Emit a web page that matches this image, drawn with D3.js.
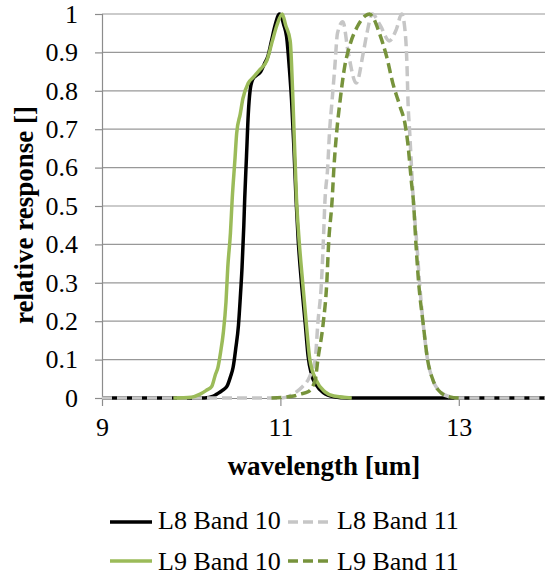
<!DOCTYPE html>
<html>
<head>
<meta charset="utf-8">
<script src="https://cdn.jsdelivr.net/npm/d3@7/dist/d3.min.js"></script>
<style>
  html, body { margin: 0; padding: 0; background: #fff; }
  svg { display: block; }
</style>
</head>
<body>
<svg id="chart" width="545" height="575"></svg>
<script>
// ---------- DATA ----------
const seriesNames = ["L8 Band 10", "L8 Band 11", "L9 Band 10", "L9 Band 11"];

const l8b10_w = [9.0, 10.0, 10.15, 10.25, 10.30, 10.35, 10.40, 10.44, 10.47, 10.50, 10.53, 10.55, 10.57, 10.59, 10.60, 10.62, 10.64, 10.66, 10.69, 10.73, 10.78, 10.82, 10.86, 10.90, 10.94, 10.99, 11.04, 11.07, 11.10, 11.125, 11.15, 11.175, 11.20, 11.24, 11.28, 11.31, 11.35, 11.40, 11.48, 11.60, 11.75, 14.0];
const l8b10_r = [0, 0, 0, 0.005, 0.012, 0.02, 0.03, 0.055, 0.08, 0.13, 0.19, 0.26, 0.34, 0.45, 0.52, 0.63, 0.74, 0.80, 0.83, 0.84, 0.85, 0.87, 0.89, 0.93, 0.97, 1.0, 0.97, 0.94, 0.86, 0.776, 0.66, 0.52, 0.41, 0.29, 0.19, 0.11, 0.06, 0.035, 0.014, 0.003, 0, 0];

const l8b11_w = [9.0, 11.0, 11.10, 11.18, 11.25, 11.31, 11.36, 11.39, 11.42, 11.46, 11.48, 11.50, 11.53, 11.55, 11.58, 11.61, 11.64, 11.70, 11.76, 11.85, 11.93, 11.97, 12.03, 12.12, 12.22, 12.30, 12.36, 12.40, 12.42, 12.43, 12.45, 12.47, 12.49, 12.53, 12.56, 12.60, 12.65, 12.71, 12.79, 12.90, 13.0, 14.0];
const l8b11_r = [0, 0, 0.005, 0.016, 0.03, 0.047, 0.075, 0.10, 0.195, 0.30, 0.40, 0.516, 0.60, 0.69, 0.776, 0.862, 0.95, 0.98, 0.90, 0.82, 0.90, 0.95, 1.0, 0.97, 0.93, 0.96, 1.0, 0.95, 0.86, 0.776, 0.69, 0.60, 0.516, 0.40, 0.30, 0.195, 0.10, 0.047, 0.016, 0.003, 0, 0];

const l9b10_w = [9.8, 10.0, 10.10, 10.17, 10.23, 10.27, 10.30, 10.33, 10.36, 10.39, 10.41, 10.44, 10.46, 10.49, 10.51, 10.55, 10.58, 10.64, 10.70, 10.77, 10.85, 10.91, 10.96, 11.02, 11.06, 11.11, 11.14, 11.18, 11.21, 11.25, 11.29, 11.33, 11.40, 11.50, 11.60, 11.80];
const l9b10_r = [0, 0.002, 0.01, 0.02, 0.03, 0.06, 0.08, 0.12, 0.17, 0.25, 0.34, 0.43, 0.52, 0.62, 0.69, 0.74, 0.78, 0.82, 0.836, 0.855, 0.88, 0.93, 0.97, 1.0, 0.97, 0.93, 0.78, 0.52, 0.41, 0.30, 0.195, 0.10, 0.047, 0.016, 0.005, 0];

const l9b11_w = [10.9, 11.15, 11.22, 11.31, 11.39, 11.42, 11.48, 11.52, 11.54, 11.58, 11.60, 11.63, 11.67, 11.72, 11.78, 11.86, 11.95, 12.0, 12.04, 12.11, 12.19, 12.26, 12.34, 12.40, 12.43, 12.47, 12.49, 12.52, 12.55, 12.60, 12.65, 12.71, 12.79, 12.90, 13.0];
const l9b11_r = [0, 0.005, 0.01, 0.016, 0.047, 0.10, 0.195, 0.30, 0.40, 0.516, 0.60, 0.69, 0.776, 0.862, 0.92, 0.966, 0.995, 1.0, 0.99, 0.95, 0.89, 0.82, 0.76, 0.71, 0.66, 0.56, 0.516, 0.40, 0.30, 0.195, 0.10, 0.047, 0.016, 0.003, 0];

const xTicks = [9, 11, 13];
const yTicks = [0, 0.1, 0.2, 0.3, 0.4, 0.5, 0.6, 0.7, 0.8, 0.9, 1];
const xTitle = "wavelength [um]";
const yTitle = "relative response []";

// ---------- LAYOUT ----------
const svg = d3.select("#chart");
const plotLeft = 102, plotRight = 548, plotTop = 14, plotBottom = 398;
const x = d3.scaleLinear().domain([9, 14]).range([plotLeft, plotRight]);
const y = d3.scaleLinear().domain([0, 1]).range([plotBottom, plotTop]);

const styles = [
  { color: "#000000", dash: null, width: 3.5 },
  { color: "#c6c6c6", dash: "10,5", width: 3.5 },
  { color: "#9bbb59", dash: null, width: 3.5 },
  { color: "#77933c", dash: "10,5", width: 3.5 }
];
const data = [
  l8b10_w.map((w, i) => [w, l8b10_r[i]]),
  l8b11_w.map((w, i) => [w, l8b11_r[i]]),
  l9b10_w.map((w, i) => [w, l9b10_r[i]]),
  l9b11_w.map((w, i) => [w, l9b11_r[i]])
];

const font = "'Liberation Serif', 'Times New Roman', serif";

// gridlines
svg.append("g").selectAll("line").data(yTicks.filter(d => d > 0)).join("line")
  .attr("x1", plotLeft).attr("x2", plotRight)
  .attr("y1", d => y(d)).attr("y2", d => y(d))
  .attr("stroke", "#989898").attr("stroke-width", 1.2);

// y axis
const yAxis = svg.append("g").attr("transform", `translate(${plotLeft},0)`)
  .call(d3.axisLeft(y).tickValues(yTicks).tickFormat(d3.format("")).tickSize(7).tickPadding(17));
yAxis.select(".domain").attr("stroke", "#8c8c8c").attr("stroke-width", 1.2);
yAxis.selectAll(".tick line").attr("stroke", "#8c8c8c").attr("stroke-width", 1.2);
yAxis.selectAll(".tick text").attr("font-family", font).attr("font-size", 26).attr("fill", "#000");

// x axis
const xAxis = svg.append("g").attr("transform", `translate(0,${plotBottom})`)
  .call(d3.axisBottom(x).tickValues(xTicks).tickFormat(d3.format("d")).tickSize(8).tickSizeOuter(0).tickPadding(12));
xAxis.select(".domain").attr("stroke", "#8c8c8c").attr("stroke-width", 1.2);
xAxis.selectAll(".tick line").attr("stroke", "#8c8c8c").attr("stroke-width", 1.2);
xAxis.selectAll(".tick text").attr("font-family", font).attr("font-size", 26).attr("fill", "#000");

// series lines
const line = d3.line().x(d => x(d[0])).y(d => y(d[1])).curve(d3.curveMonotoneX);
data.forEach((pts, i) => {
  svg.append("path").datum(pts)
    .attr("d", line)
    .attr("fill", "none")
    .attr("stroke", styles[i].color)
    .attr("stroke-width", styles[i].width)
    .attr("stroke-dasharray", styles[i].dash)
    .attr("stroke-linejoin", "round");
});

// axis titles
svg.append("text")
  .attr("x", 324).attr("y", 475)
  .attr("text-anchor", "middle")
  .attr("font-family", font).attr("font-weight", "bold").attr("font-size", 27)
  .attr("fill", "#000")
  .text(xTitle);

svg.append("text")
  .attr("transform", "translate(33,215) rotate(-90)")
  .attr("text-anchor", "middle")
  .attr("font-family", font).attr("font-weight", "bold").attr("font-size", 27)
  .attr("fill", "#000")
  .text(yTitle);

// legend
const legendPos = [
  { lx: 110, ly: 522, tx: 158, ty: 529 },
  { lx: 288, ly: 522, tx: 337, ty: 529 },
  { lx: 110, ly: 561, tx: 158, ty: 570 },
  { lx: 288, ly: 561, tx: 337, ty: 570 }
];
seriesNames.forEach((name, i) => {
  const p = legendPos[i];
  svg.append("line")
    .attr("x1", p.lx).attr("x2", p.lx + 42)
    .attr("y1", p.ly).attr("y2", p.ly)
    .attr("stroke", styles[i].color)
    .attr("stroke-width", styles[i].width)
    .attr("stroke-dasharray", styles[i].dash);
  svg.append("text")
    .attr("x", p.tx).attr("y", p.ty)
    .attr("font-family", font).attr("font-size", 26)
    .attr("fill", "#000")
    .text(name);
});
</script>
</body>
</html>
